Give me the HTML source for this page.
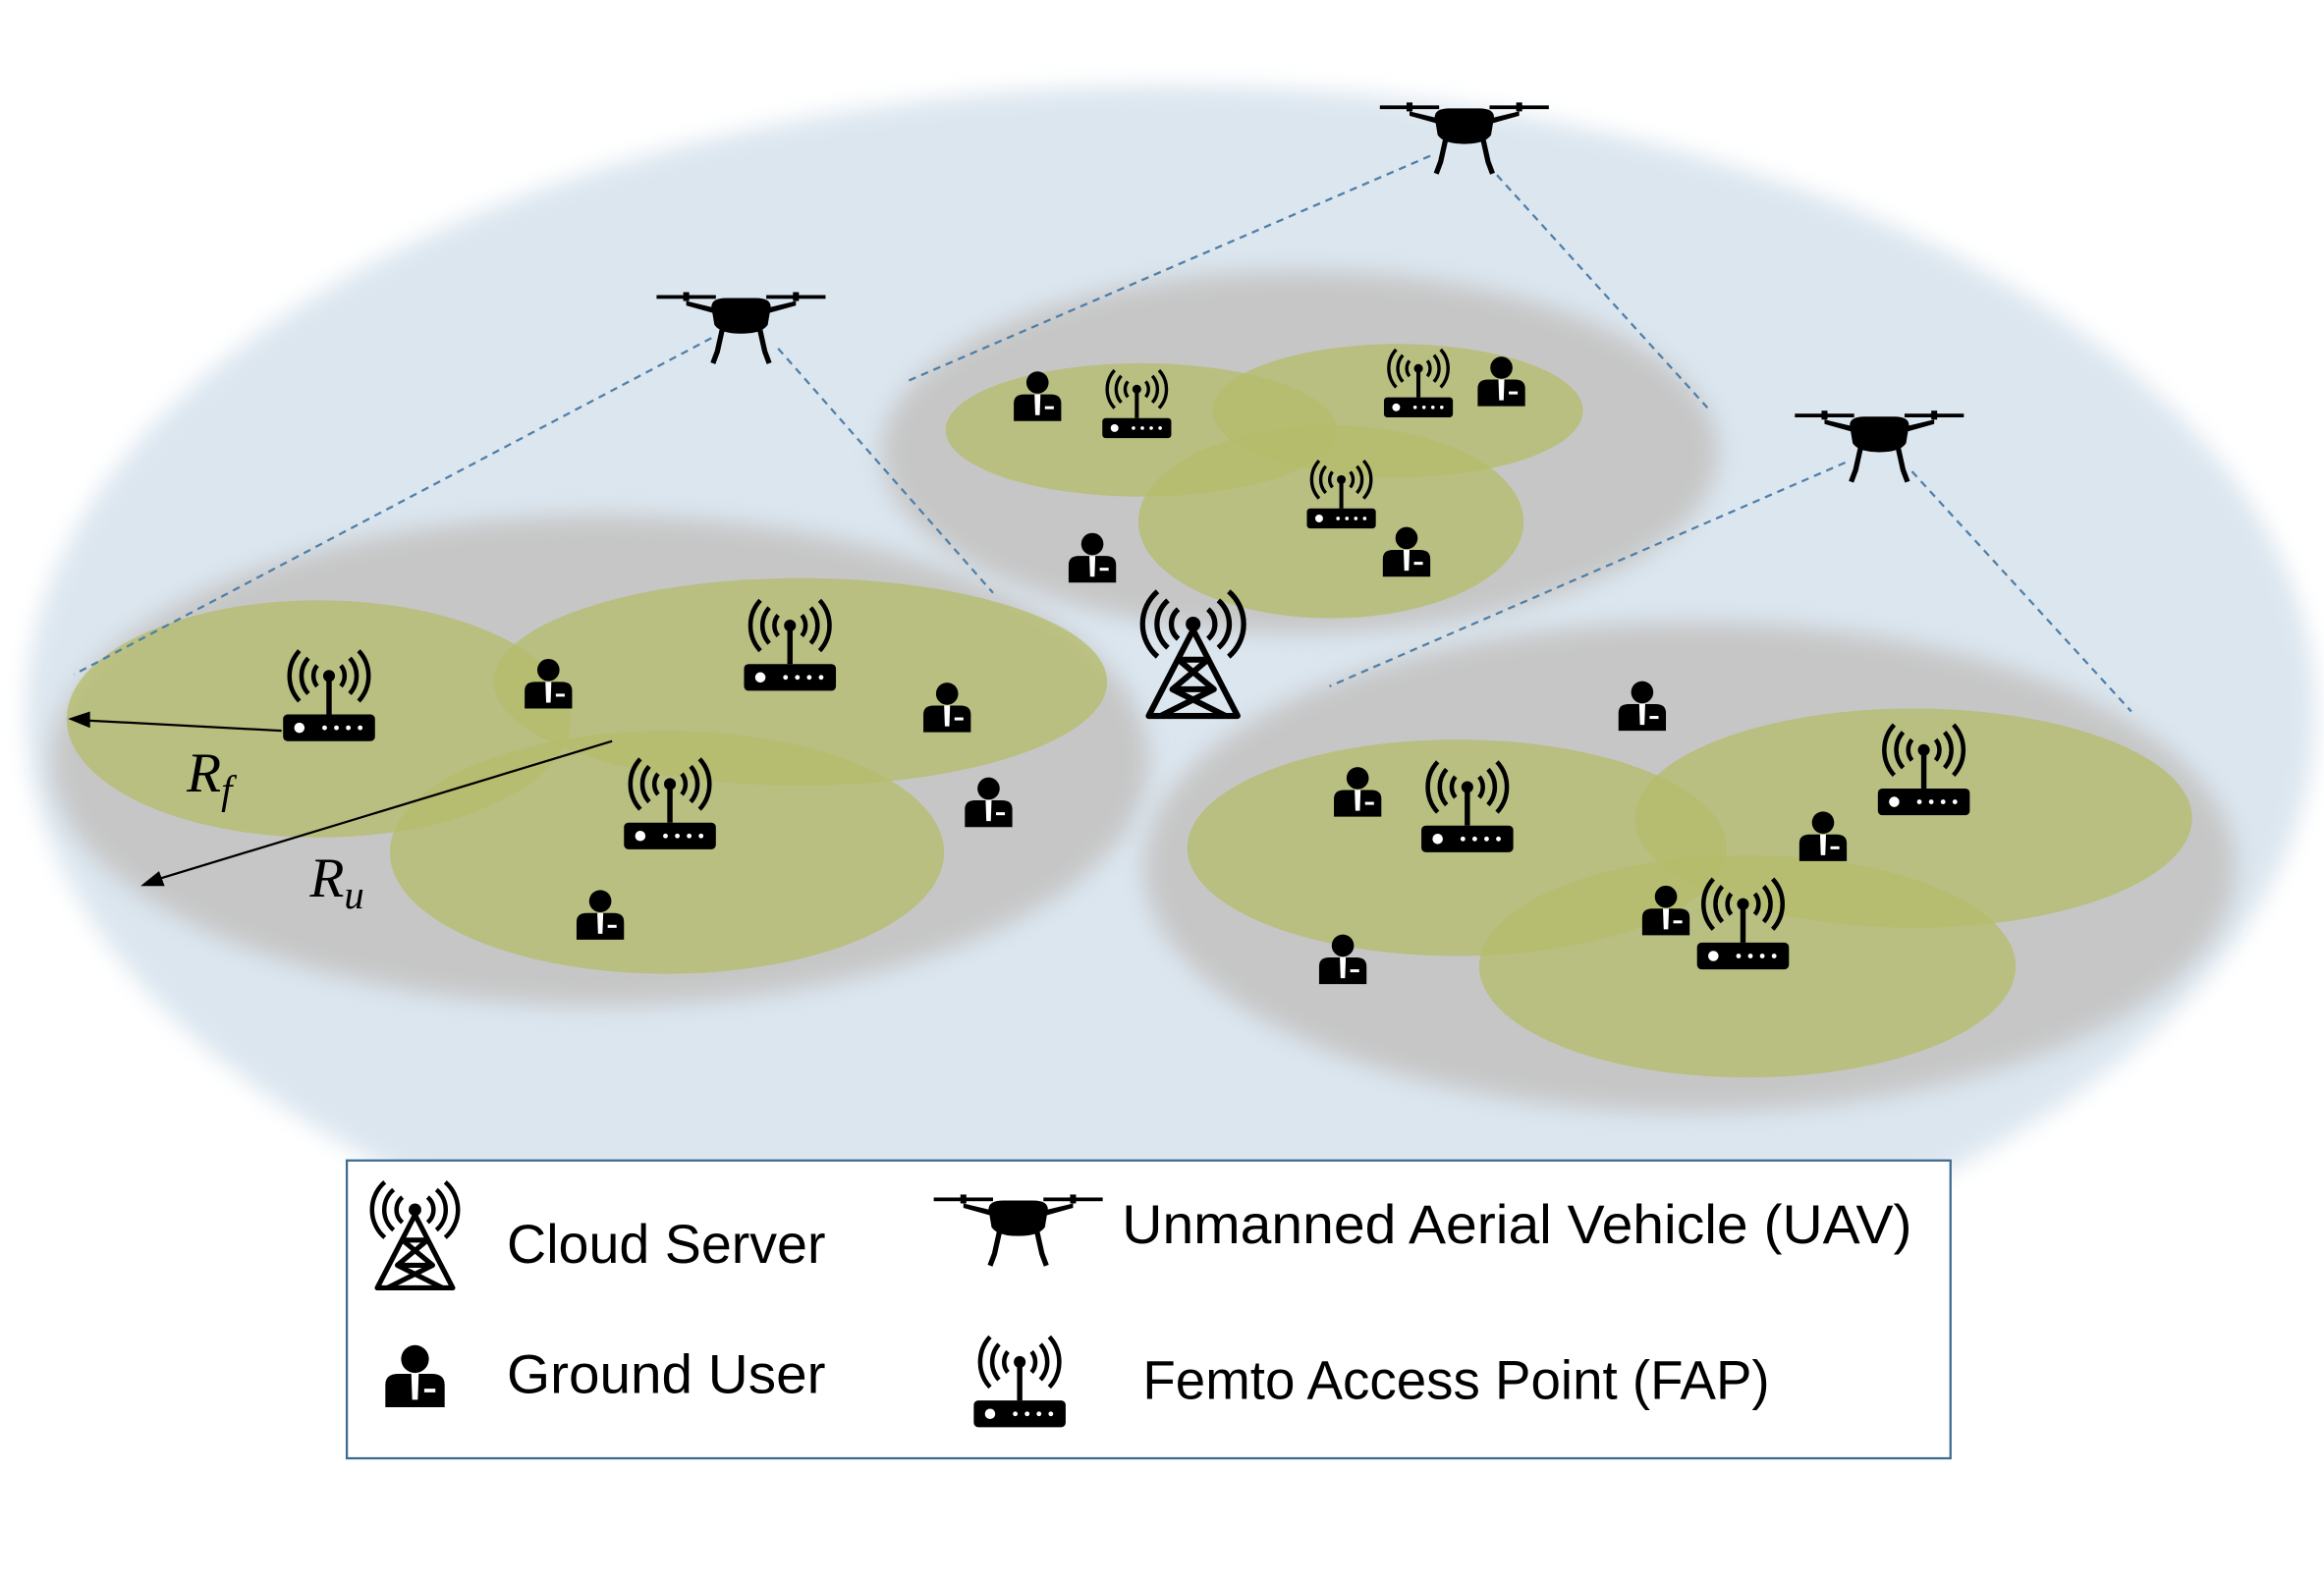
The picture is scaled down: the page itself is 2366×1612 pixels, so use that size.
<!DOCTYPE html>
<html><head><meta charset="utf-8"><style>html,body{margin:0;padding:0;background:#fff;}svg{display:block}</style></head>
<body>
<svg width="2366" height="1612" viewBox="0 0 1568 1068" xmlns="http://www.w3.org/2000/svg">
<defs>
<filter id="b1" x="-10%" y="-10%" width="120%" height="120%"><feGaussianBlur stdDeviation="8"/></filter>
<g id="user">
<circle cx="0" cy="-12" r="7.5" fill="#000"/>
<path d="M-16,14 L-16,2 Q-16,-4 -9,-4 L9,-4 Q16,-4 16,2 L16,14 Z" fill="#000"/>
<path d="M-2,-4 L2,-4 L1.5,10 L-1.5,10 Z" fill="#fff"/>
<rect x="5" y="4" width="6" height="2" fill="#fff"/>
</g>
<g id="fap">
<rect x="-31" y="0" width="62" height="18" rx="3" fill="#000"/>
<circle cx="-20" cy="9" r="3.5" fill="#fff"/>
<circle cx="-3" cy="9" r="1.6" fill="#fff"/><circle cx="5" cy="9" r="1.6" fill="#fff"/><circle cx="13" cy="9" r="1.6" fill="#fff"/><circle cx="21" cy="9" r="1.6" fill="#fff"/>
<rect x="-1.8" y="-26" width="3.6" height="26" fill="#000"/>
<circle cx="0" cy="-26" r="4" fill="#000"/>
<g fill="none" stroke="#000" stroke-width="3">
<path d="M-8,-33 A11,11 0 0,0 -8,-19"/><path d="M8,-33 A11,11 0 0,1 8,-19"/>
<path d="M-14,-38 A18,18 0 0,0 -14,-14"/><path d="M14,-38 A18,18 0 0,1 14,-14"/>
<path d="M-20,-43 A25,25 0 0,0 -20,-9"/><path d="M20,-43 A25,25 0 0,1 20,-9"/>
</g>
</g>
<g id="tower">
<g fill="none" stroke="#000" stroke-width="4" stroke-linejoin="round">
<path d="M0,-18 L-30,40 L30,40 Z"/>
<path d="M-10,2 L14,22 L-22,40 M10,2 L-14,22 L22,40 M-10,2 L10,2 M-14,22 L14,22"/>
</g>
<circle cx="0" cy="-22" r="5" fill="#000"/>
<g fill="none" stroke="#000" stroke-width="3.5">
<path d="M-10,-32 A13,13 0 0,0 -10,-12"/><path d="M10,-32 A13,13 0 0,1 10,-12"/>
<path d="M-17,-38 A21,21 0 0,0 -17,-6"/><path d="M17,-38 A21,21 0 0,1 17,-6"/>
<path d="M-24,-44 A29,29 0 0,0 -24,0"/><path d="M24,-44 A29,29 0 0,1 24,0"/>
</g>
</g>
<g id="drone">
<rect x="-57" y="-14" width="40" height="2.5" fill="#000"/>
<rect x="17" y="-14" width="40" height="2.5" fill="#000"/>
<rect x="-39" y="-16" width="4" height="6" fill="#000"/><rect x="35" y="-16" width="4" height="6" fill="#000"/>
<path d="M-37,-10 L-12,-4 L12,-4 L37,-10 L37,-7 L12,0 L-12,0 L-37,-7 Z" fill="#000"/>
<path d="M-20,-6 Q-20,-12 -10,-12 L10,-12 Q20,-12 20,-6 L18,6 Q14,12 0,12 Q-14,12 -18,6 Z" fill="#000"/>
<path d="M-12,6 L-16,24 L-19,32 M12,6 L16,24 L19,32" stroke="#000" stroke-width="3.5" fill="none"/>
</g>
</defs>

<ellipse cx="790" cy="480" rx="772" ry="422" fill="#dbe6ef" filter="url(#b1)"/>

<ellipse cx="405" cy="513" rx="370" ry="165" fill="#c6c6c6" filter="url(#b1)"/>
<ellipse cx="877" cy="305" rx="282" ry="122" fill="#c6c6c6" filter="url(#b1)"/>
<ellipse cx="1140" cy="585" rx="368" ry="165" fill="#c6c6c6" filter="url(#b1)"/>

<g fill="#b5bd6c" fill-opacity="0.78">
<ellipse cx="215" cy="485" rx="170" ry="80"/>
<ellipse cx="540" cy="460" rx="207" ry="70"/>
<ellipse cx="450" cy="575" rx="187" ry="82"/>
<ellipse cx="770" cy="290" rx="132" ry="45"/>
<ellipse cx="943" cy="277" rx="125" ry="45"/>
<ellipse cx="898" cy="352" rx="130" ry="65"/>
<ellipse cx="983" cy="572" rx="182" ry="73"/>
<ellipse cx="1291" cy="552" rx="188" ry="74"/>
<ellipse cx="1179" cy="652" rx="181" ry="75"/>
</g>

<g stroke="#4f7fa8" stroke-width="1.5" stroke-dasharray="5,4" fill="none">
<line x1="480" y1="228" x2="50" y2="455"/>
<line x1="525" y1="235" x2="670" y2="400"/>
<line x1="965" y1="105" x2="610" y2="258"/>
<line x1="1010" y1="118" x2="1152" y2="275"/>
<line x1="1245" y1="312" x2="897" y2="463"/>
<line x1="1290" y1="318" x2="1438" y2="480"/>
</g>

<use href="#drone" x="500" y="213"/>
<use href="#drone" x="988" y="85"/>
<use href="#drone" x="1268" y="293"/>

<use href="#tower" x="805" y="443"/>

<use href="#fap" x="222" y="482"/>
<use href="#fap" x="533" y="448"/>
<use href="#fap" x="452" y="555"/>
<use href="#fap" x="767" y="282" transform="translate(767,282) scale(0.75) translate(-767,-282)"/>
<use href="#fap" x="957" y="268" transform="translate(957,268) scale(0.75) translate(-957,-268)"/>
<use href="#fap" x="905" y="343" transform="translate(905,343) scale(0.75) translate(-905,-343)"/>
<use href="#fap" x="990" y="557"/>
<use href="#fap" x="1298" y="532"/>
<use href="#fap" x="1176" y="636"/>

<use href="#user" x="370" y="464"/>
<use href="#user" x="639" y="480"/>
<use href="#user" x="667" y="544"/>
<use href="#user" x="405" y="620"/>
<use href="#user" x="700" y="270"/>
<use href="#user" x="1013" y="260"/>
<use href="#user" x="737" y="379"/>
<use href="#user" x="949" y="375"/>
<use href="#user" x="1108" y="479"/>
<use href="#user" x="916" y="537"/>
<use href="#user" x="1230" y="567"/>
<use href="#user" x="1124" y="617"/>
<use href="#user" x="906" y="650"/>

<g stroke="#000" stroke-width="1.5" fill="#000">
<line x1="190" y1="493" x2="58" y2="486"/>
<path d="M48,485 L60,481 L60,490 Z"/>
<line x1="413" y1="500" x2="107" y2="593"/>
<path d="M97,597 L107,589 L110,597 Z"/>
</g>
<text x="126" y="534" font-family="Liberation Serif, serif" font-style="italic" font-size="38">R<tspan font-size="27" dy="8">f</tspan></text>
<text x="209" y="605" font-family="Liberation Serif, serif" font-style="italic" font-size="38">R<tspan font-size="27" dy="8">u</tspan></text>

<rect x="234" y="783" width="1082" height="201" fill="#fff" stroke="#3d6a8f" stroke-width="1.5"/>
<use href="#tower" x="280" y="835" transform="translate(280,835) scale(0.85) translate(-280,-835)"/>
<use href="#user" x="280" y="932" transform="translate(280,932) scale(1.25) translate(-280,-932)"/>
<use href="#drone" x="687" y="822"/>
<use href="#fap" x="688" y="945"/>
<g font-family="Liberation Sans, sans-serif" font-size="37" fill="#000">
<text x="342" y="852" textLength="215" lengthAdjust="spacingAndGlyphs">Cloud Server</text>
<text x="342" y="940" textLength="215" lengthAdjust="spacingAndGlyphs">Ground User</text>
<text x="757" y="839" textLength="533" lengthAdjust="spacingAndGlyphs">Unmanned Aerial Vehicle (UAV)</text>
<text x="771" y="944" textLength="423" lengthAdjust="spacingAndGlyphs">Femto Access Point (FAP)</text>
</g>
</svg>
</body></html>
